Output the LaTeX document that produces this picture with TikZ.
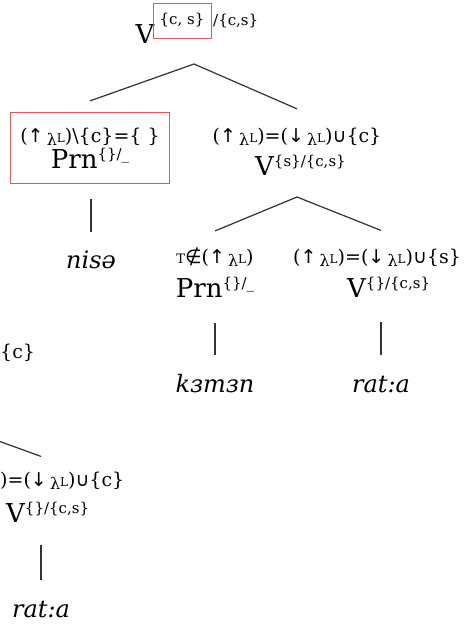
\documentclass[tikz,border=0pt]{standalone}
\usepackage{fontspec}
\setmainfont{DejaVu Serif}
\newfontfamily\symf{DejaVu Sans}
\usetikzlibrary{fit,calc}
\definecolor{boxred}{RGB}{226,88,88}
\newcommand{\labf}{\fontsize{19}{22}\selectfont}
\newcommand{\bigf}{\fontsize{26}{28}\selectfont}
\newcommand{\supf}{\fontsize{15}{16}\selectfont}
\newcommand{\wordf}{\fontsize{24}{26}\selectfont\itshape}
\newcommand{\myup}{{\symf ↑}}
\newcommand{\mydn}{{\symf ↓}}
\newcommand{\mycup}{{\symf ∪}}
\newcommand{\mynotin}{{\symf ∉}}
\newcommand{\lamL}{\,\raisebox{-3pt}{\fontsize{16}{16}\selectfont λ}{\fontsize{12}{12}\selectfont L}}
\newcommand{\supx}[1]{\raisebox{9pt}{\supf #1}}
\begin{document}
\begin{tikzpicture}[x=1pt,y=-1pt,
  edge/.style={draw=black!80,line width=1.2pt},
  lbl/.style={anchor=base,inner sep=0pt,font=\labf},
  bigl/.style={anchor=base,inner sep=0pt,font=\bigf},
  word/.style={anchor=base,inner sep=0pt,font=\wordf},
  frame/.style={draw=boxred,line width=1pt}]
\useasboundingbox (0,0) rectangle (473,633);
\begin{scope}
\clip (0,0) rectangle (473,633);
% root
\node[bigl] (rootV) at (145,43) {V};
\node[frame,minimum width=58pt,minimum height=35pt,inner sep=0pt,font=\supf] (rootsup) at (182,20.5) {\{c, s\}};
\node[anchor=west,inner sep=0pt,font=\supf] (rootsup2) at (213,21) {/\{c,s\}};
\coordinate (a0) at (194,64);
% left child (boxed)
\node[lbl] (l1) at (90,142) {(\myup\lamL)\textbackslash\{c\}=\{ \}};
\node[bigl] (l2) at (90,168) {Prn\supx{\{\}/\_}};
\node[frame,fit=(l1)(l2),inner xsep=10pt,inner ysep=15pt] (lbox) {};
% right child
\node[lbl] (r1) at (297,142) {(\myup\lamL)=(\mydn\lamL)\mycup\{c\}};
\node[bigl,anchor=base west] (r2) at (255,175) {V\supx{\{s\}/\{c,s\}}};
\draw[edge] (a0) -- ([yshift=11pt]lbox.north);
\draw[edge] (a0) -- ([yshift=18.5pt]r1.north);
% nise
\node[word] (w1) at (91,268) {nisə};
\draw[edge] ($(lbox.south -| w1.north)+(0,15)$) -- ($(w1.north)+(0,-18)$);
% second level
\coordinate (a1) at (297,197);
\node[lbl] (m1) at (215,263) {{\fontsize{13}{13}\selectfont T}\mynotin(\myup\lamL)};
\node[bigl] (m2) at (215,297) {Prn\supx{\{\}/\_}};
\node[lbl] (n1) at (377,263) {(\myup\lamL)=(\mydn\lamL)\mycup\{s\}};
\node[bigl,anchor=base west] (n2) at (347,297) {V\supx{\{\}/\{c,s\}}};
\node[word] (w2) at (215,392) {kзmзn};
\node[word] (w3) at (381,392) {rat:a};
\draw[edge] (a1) -- ([yshift=16pt]m1.north);
\draw[edge] (a1) -- ($(n2.north -| w3.north)+(0,-46)$);
\draw[edge] ($(m2.south -| w2.north)+(0,26)$) -- ($(w2.north)+(0,-19)$);
\draw[edge] ($(n2.south -| w3.north)+(0,25)$) -- ($(w3.north)+(0,-20)$);
% partial tree at the left edge
\node[lbl,anchor=base west] (p0) at (0,358) {\{c\}};
\coordinate (pa) at (-40,427);
\node[lbl,anchor=base west] (p1) at (0,486) {)=(\mydn\lamL)\mycup\{c\}};
\node[bigl,anchor=base west] (p2) at (6,522) {V\supx{\{\}/\{c,s\}}};
\node[word] (w4) at (41,617) {rat:a};
\draw[edge] (pa) -- ($(p2.north -| w4.north)+(0,-45)$);
\draw[edge] ($(p2.south -| w4.north)+(0,23)$) -- ($(w4.north)+(0,-20)$);
\end{scope}
\end{tikzpicture}
\end{document}
